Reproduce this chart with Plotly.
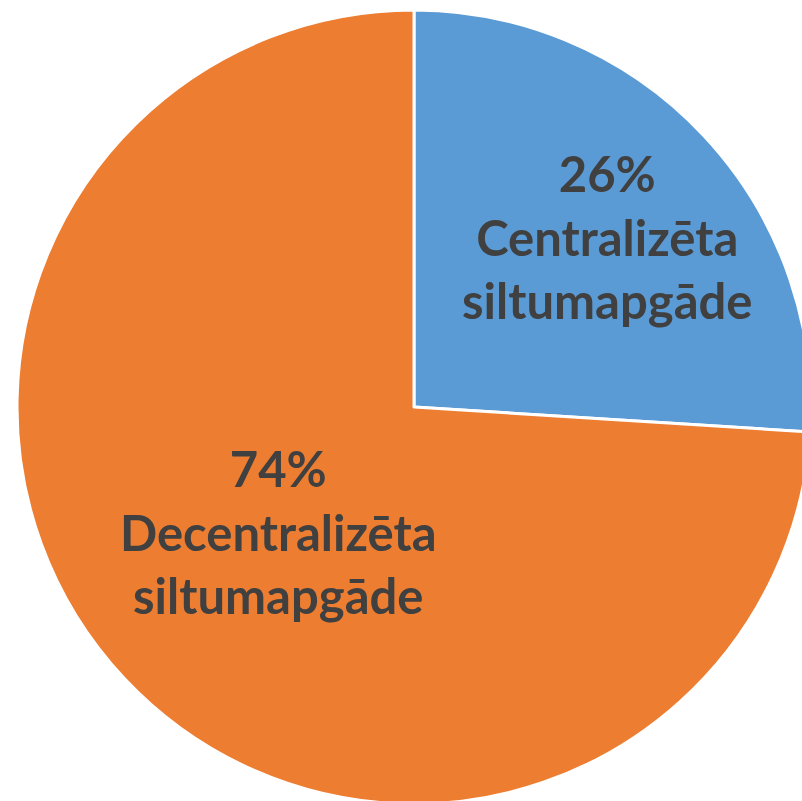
import plotly.graph_objects as go

categories = ["Centralizēta siltumapgāde", "Decentralizēta siltumapgāde"]
values = [26, 74]
colors = ["#5B9BD5", "#ED7D31"]
# label anchor positions (pixels) for each slice label
label_px = [(607, 236), (278, 531)]

W, H = 830, 820
cx, cy, r = 414, 407, 397

fig = go.Figure(go.Pie(
    labels=categories,
    values=values,
    sort=False,
    direction="clockwise",
    rotation=0,
    marker=dict(colors=colors, line=dict(color="white", width=3)),
    textinfo="none",
    hoverinfo="label+percent",
    showlegend=False,
    domain=dict(x=[(cx - r) / W, (cx + r) / W], y=[(H - cy - r) / H, (H - cy + r) / H]),
))

total = sum(values)
for cat, v, (px, py) in zip(categories, values, label_px):
    pct = round(100 * v / total)
    text = f"{pct}%<br>" + "<br>".join(cat.split(" "))
    fig.add_annotation(
        x=px / W, y=1 - py / H, xref="paper", yref="paper",
        text=text, showarrow=False, xanchor="center", yanchor="middle",
        font=dict(family="Lato", size=49, color="#404040", weight="bold"),
    )

fig.update_layout(
    width=W, height=H,
    margin=dict(l=0, r=0, t=0, b=0),
    paper_bgcolor="white",
    plot_bgcolor="white",
)

fig.write_html(
    "out.html",
    post_script="document.body.style.margin='0';document.body.style.overflow='hidden';document.documentElement.style.overflow='hidden';",
)
